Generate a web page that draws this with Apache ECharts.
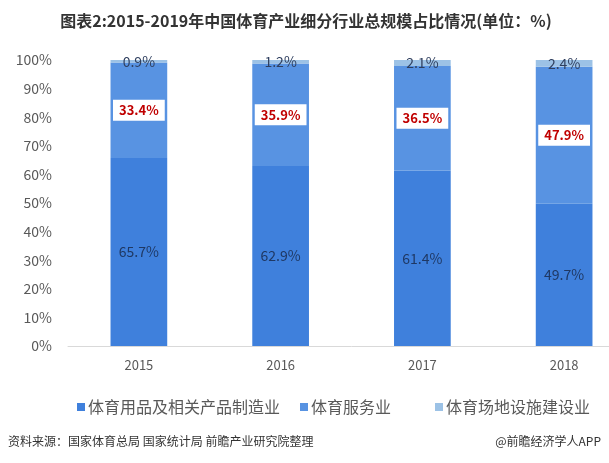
<!DOCTYPE html>
<html>
<head>
<meta charset="utf-8">
<script src="https://cdn.jsdelivr.net/npm/echarts@6/dist/echarts.min.js"></script>
<style>
html,body{margin:0;padding:0;background:#fff;overflow:hidden;width:609px;height:463px;}
#c{width:640px;height:463px;}
</style>
</head>
<body>
<div id="c"></div>
<script>
var years = ['2015', '2016', '2017', '2018'];
var seriesNames = ['体育用品及相关产品制造业', '体育服务业', '体育场地设施建设业'];
var manufacturing = [65.7, 62.9, 61.4, 49.7];
var services = [33.4, 35.9, 36.5, 47.9];
var venues = [0.9, 1.2, 2.1, 2.4];
var yTicks = [0, 10, 20, 30, 40, 50, 60, 70, 80, 90, 100];

var FONT = '"Noto Sans CJK SC", "Noto Sans", sans-serif';
var colors = ['#3f80dc', '#5893e2', '#9cc2e6'];

var chart = echarts.init(document.getElementById('c'), null, {renderer: 'canvas'});
function legendFor(i, left) {
  return {
    data: [seriesNames[i]],
    left: left, top: 394,
    itemWidth: 8, itemHeight: 8, itemGap: 0,
    icon: 'rect',
    textStyle: {fontFamily: FONT, fontSize: 16, color: '#595959', padding: [0, 0, 0, -2]}
  };
}
var option = {
  animation: false,
  color: colors,
  textStyle: {fontFamily: FONT},
  legend: [legendFor(0, 72), legendFor(1, 295), legendFor(2, 430)],
  grid: {left: 68, right: 5, top: 60, bottom: 117},
  xAxis: {
    type: 'category',
    data: years,
    axisLine: {lineStyle: {color: '#d9d9d9', width: 1}},
    axisTick: {show: false},
    axisLabel: {fontFamily: FONT, fontSize: 13, color: '#595959', margin: 13}
  },
  yAxis: {
    type: 'value',
    min: yTicks[0], max: yTicks[yTicks.length - 1], interval: 10,
    axisLine: {show: false},
    axisTick: {show: false},
    splitLine: {show: false},
    axisLabel: {fontFamily: FONT, fontSize: 14, color: '#595959', margin: 16,
      formatter: function (v) { return v + '%'; }}
  },
  graphic: [
    {type: 'text', x: 306, y: 21,
     style: {text: '图表2:2015-2019年中国体育产业细分行业总规模占比情况(单位：%)',
       font: 'bold 16px "Noto Sans CJK SC"', fill: '#333333', textAlign: 'center', textVerticalAlign: 'middle'}},
    {type: 'text', x: 8, y: 441,
     style: {text: '资料来源：国家体育总局 国家统计局 前瞻产业研究院整理', font: '12px "Noto Sans CJK SC"', fill: '#333333', textVerticalAlign: 'middle'}},
    {type: 'text', x: 601, y: 441,
     style: {text: '@前瞻经济学人APP', font: '12px "Noto Sans CJK SC"', fill: '#333333', textAlign: 'right', textVerticalAlign: 'middle'}}
  ],
  series: [
    {
      name: seriesNames[0], type: 'bar', stack: 'total', barWidth: '40%',
      data: manufacturing,
      itemStyle: {color: colors[0]},
      label: {show: true, position: 'inside', fontFamily: FONT, fontSize: 14, color: '#1f3864',
        formatter: function (p) { return p.value.toFixed(1) + '%'; }}
    },
    {
      name: seriesNames[1], type: 'bar', stack: 'total', barWidth: '40%',
      data: services,
      itemStyle: {color: colors[1]},
      label: {show: true, position: 'inside', fontFamily: FONT, fontSize: 13, fontWeight: 'bold',
        color: '#c00000', backgroundColor: '#ffffff', padding: [4, 6],
        formatter: function (p) { return p.value.toFixed(1) + '%'; }}
    },
    {
      name: seriesNames[2], type: 'bar', stack: 'total', barWidth: '40%',
      data: venues,
      itemStyle: {color: colors[2]},
      label: {show: true, position: 'inside', fontFamily: FONT, fontSize: 14, color: '#2f3f5f',
        formatter: function (p) { return p.value.toFixed(1) + '%'; }}
    }
  ]
};
chart.setOption(option);
</script>
</body>
</html>
